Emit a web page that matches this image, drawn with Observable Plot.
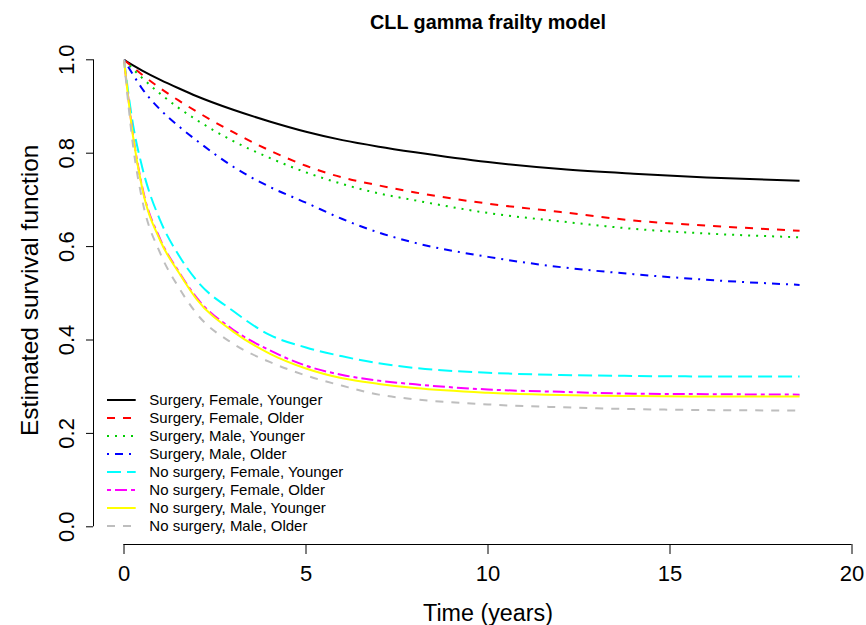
<!DOCTYPE html>
<html>
<head>
<meta charset="utf-8">
<script src="https://cdn.jsdelivr.net/npm/d3@7"></script>
<script src="https://cdn.jsdelivr.net/npm/@observablehq/plot@0.6"></script>
<style>
  html, body { margin: 0; padding: 0; background: #fff; }
  #wrap { position: relative; width: 866px; height: 625px; font-family: "Liberation Sans", Arial, Helvetica, sans-serif; }
  #legend { position: absolute; left: 0; top: 0; }
</style>
</head>
<body>
<div id="wrap"></div>
<script>
// ---- data ----
const title = "CLL gamma frailty model";
const xLabel = "Time (years)";
const yLabel = "Estimated survival function";
const xTicks = [0, 5, 10, 15, 20];
const yTicks = [0, 0.2, 0.4, 0.6, 0.8, 1.0];
const times = [0, 0.25, 0.5, 1, 1.5, 2, 3, 4, 5, 6, 7, 8, 10, 12, 14, 16, 18.56];

const seriesNames = [
  "Surgery, Female, Younger",
  "Surgery, Female, Older",
  "Surgery, Male, Younger",
  "Surgery, Male, Older",
  "No surgery, Female, Younger",
  "No surgery, Female, Older",
  "No surgery, Male, Younger",
  "No surgery, Male, Older"
];
const surgFemYoung = [1, 0.988, 0.977, 0.957, 0.939, 0.922, 0.893, 0.868, 0.846, 0.828, 0.814, 0.802, 0.781, 0.766, 0.756, 0.748, 0.741];
const surgFemOld   = [1, 0.984, 0.968, 0.939, 0.913, 0.889, 0.845, 0.806, 0.773, 0.748, 0.731, 0.716, 0.692, 0.674, 0.656, 0.645, 0.634];
const surgMalYoung = [1, 0.980, 0.961, 0.927, 0.897, 0.871, 0.826, 0.790, 0.759, 0.734, 0.714, 0.699, 0.672, 0.654, 0.638, 0.628, 0.620];
const surgMalOld   = [1, 0.968, 0.938, 0.893, 0.858, 0.827, 0.771, 0.728, 0.694, 0.659, 0.630, 0.608, 0.578, 0.556, 0.541, 0.529, 0.518];
const noFemYoung   = [1, 0.860, 0.770, 0.655, 0.582, 0.527, 0.462, 0.411, 0.384, 0.365, 0.350, 0.340, 0.330, 0.325, 0.323, 0.322, 0.322];
const noFemOld     = [1, 0.838, 0.728, 0.615, 0.547, 0.490, 0.422, 0.378, 0.345, 0.325, 0.313, 0.305, 0.294, 0.289, 0.285, 0.284, 0.283];
const noMalYoung   = [1, 0.835, 0.725, 0.612, 0.545, 0.487, 0.418, 0.371, 0.339, 0.318, 0.306, 0.297, 0.287, 0.282, 0.280, 0.279, 0.279];
const noMalOld     = [1, 0.815, 0.700, 0.585, 0.513, 0.456, 0.392, 0.353, 0.324, 0.302, 0.283, 0.273, 0.262, 0.256, 0.252, 0.250, 0.249];
const seriesValues = [surgFemYoung, surgFemOld, surgMalYoung, surgMalOld, noFemYoung, noFemOld, noMalYoung, noMalOld];

const colors = ["#000000", "#FF0000", "#00CD00", "#0000FF", "#00FFFF", "#FF00FF", "#FFFF00", "#BEBEBE"];
const dashes = ["none", "8,8", "2,6", "2,6,8,6", "14,6", "4,4,12,4", "none", "8,8"];

// ---- chart ----
const font = "Liberation Sans, Arial, Helvetica, sans-serif";
const W = 866, H = 625;
const mL = 123.5, mR = 14.5, mT = 59.3, mB = 98.7;

const lineMarks = seriesValues.map((vals, k) =>
  Plot.line(times.map((t, i) => ({t, v: vals[i]})), {
    x: "t", y: "v", stroke: colors[k], strokeWidth: 2,
    strokeDasharray: dashes[k], strokeLinecap: "butt", curve: "monotone-x"
  })
);

const chart = Plot.plot({
  width: W, height: H,
  marginLeft: mL, marginRight: mR, marginTop: mT, marginBottom: mB,
  style: {fontFamily: font, background: "white", color: "black"},
  x: {domain: [0, 20], axis: null},
  y: {domain: [0, 1], axis: null},
  marks: [
    ...lineMarks,
    // x axis
    Plot.ruleY([0], {x1: xTicks[0], x2: xTicks[xTicks.length - 1], dy: 17.7, stroke: "black", strokeWidth: 1}),
    Plot.axisX(xTicks, {anchor: "bottom", tickSize: 10, tickPadding: 10.5, dy: 17.7, fontSize: 22, label: null, stroke: "black", strokeWidth: 1}),
    // y axis
    Plot.ruleX([0], {y1: yTicks[0], y2: yTicks[yTicks.length - 1], dx: -30.5, stroke: "black", strokeWidth: 1}),
    Plot.axisY(yTicks, {anchor: "left", tickSize: 7, tickPadding: 12.5, tickRotate: -90, dx: -30.5, fontSize: 22, label: null,
      tickFormat: d => d.toFixed(1), stroke: "black", strokeWidth: 1}),
    // titles
    Plot.text([title], {frameAnchor: "top", lineAnchor: "bottom", dy: -31.3, fontSize: 19.8, fontWeight: "bold", fill: "black"}),
    Plot.text([xLabel], {frameAnchor: "bottom", lineAnchor: "bottom", dy: 93.7, fontSize: 23.3, fill: "black"}),
    Plot.text([yLabel], {frameAnchor: "left", rotate: -90, textAnchor: "middle", lineAnchor: "bottom", dx: -86, dy: -3, fontSize: 24.5, fill: "black"})
  ]
});
document.getElementById("wrap").appendChild(chart);

// ---- legend overlay ----
const leg = d3.select("#wrap").append("svg").attr("id", "legend")
  .attr("width", W).attr("height", H);
const lx0 = 107, lx1 = 135.7, tx = 149.3, ly0 = 400, lstep = 18;
const rows = leg.selectAll("g").data(seriesNames).join("g")
  .attr("transform", (d, i) => `translate(0,${ly0 + i * lstep})`);
rows.append("line")
  .attr("x1", lx0).attr("x2", lx1).attr("y1", 0).attr("y2", 0)
  .attr("stroke", (d, i) => colors[i]).attr("stroke-width", 2)
  .attr("stroke-dasharray", (d, i) => dashes[i]).attr("stroke-linecap", "butt");
rows.append("text")
  .attr("x", tx).attr("y", 0).attr("dy", "0.35em")
  .attr("font-family", font).attr("font-size", 15).attr("fill", "black")
  .text(d => d);
</script>
</body>
</html>
